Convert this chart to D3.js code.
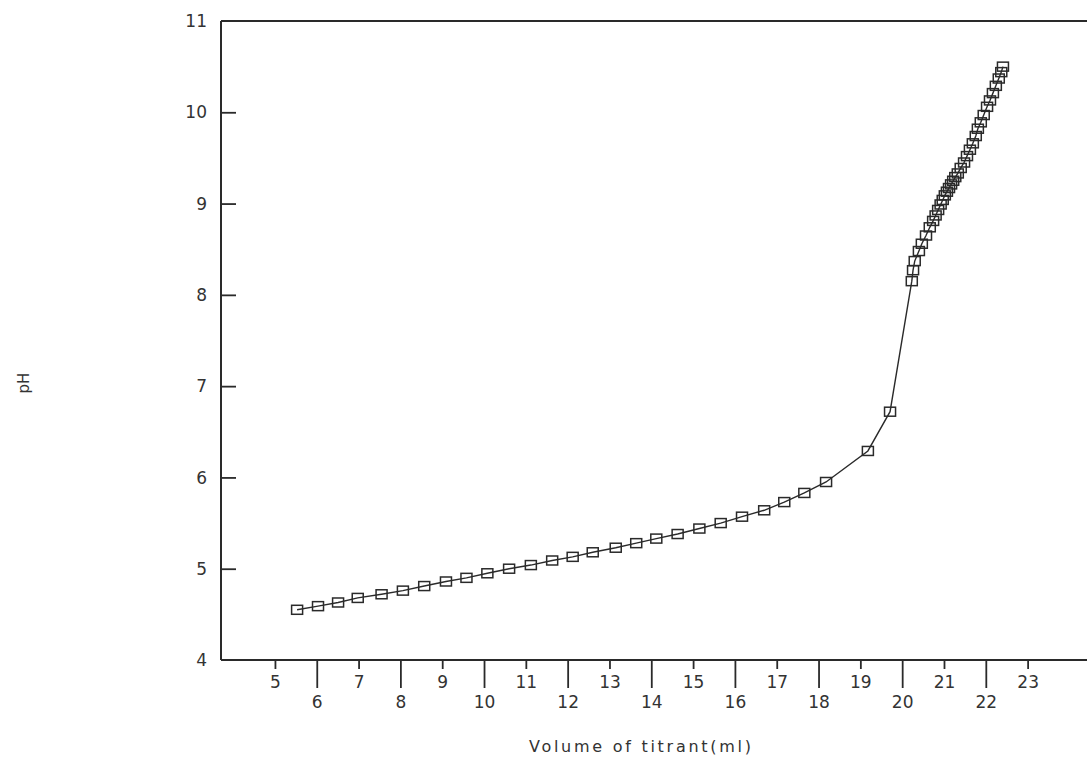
<!DOCTYPE html>
<html>
<head>
<meta charset="utf-8">
<script src="https://cdn.jsdelivr.net/npm/d3@7"></script>
<style>
  html, body { margin: 0; padding: 0; background: #fff; }
  svg { display: block; }
  text { font-family: "DejaVu Sans", sans-serif; fill: #333; }
</style>
</head>
<body>
<svg id="chart" width="1087" height="764"></svg>
<script>
// ---- data ----
const volume = [
  5.53, 6.03, 6.51, 6.98, 7.55, 8.06, 8.57, 9.09, 9.58, 10.08, 10.6, 11.12, 11.63, 12.12,
  12.6, 13.15, 13.64, 14.12, 14.63, 15.15, 15.66, 16.17, 16.7, 17.18, 17.66, 18.18,
  19.18, 19.71, 20.23,
  20.26, 20.3, 20.4, 20.47, 20.57, 20.66, 20.74, 20.8, 20.86, 20.92, 20.97, 21.02, 21.07,
  21.12, 21.17, 21.22, 21.27, 21.33, 21.4, 21.48, 21.55, 21.62, 21.69, 21.76, 21.81,
  21.88, 21.95, 22.03, 22.1, 22.17, 22.24, 22.31, 22.37, 22.41
];
const pH = [
  4.55, 4.59, 4.63, 4.68, 4.72, 4.76, 4.81, 4.86, 4.9, 4.95, 5.0, 5.04, 5.09, 5.13,
  5.18, 5.23, 5.28, 5.33, 5.38, 5.44, 5.5, 5.57, 5.64, 5.73, 5.83, 5.95,
  6.29, 6.72, 8.15,
  8.27, 8.37, 8.48, 8.56, 8.65, 8.74, 8.81, 8.87, 8.93, 8.99, 9.04, 9.09, 9.13,
  9.17, 9.21, 9.25, 9.29, 9.33, 9.39, 9.45, 9.52, 9.59, 9.66, 9.74, 9.82,
  9.89, 9.97, 10.06, 10.13, 10.21, 10.29, 10.37, 10.44, 10.5
];
const xTicks = [5, 6, 7, 8, 9, 10, 11, 12, 13, 14, 15, 16, 17, 18, 19, 20, 21, 22, 23];
const yTicks = [4, 5, 6, 7, 8, 9, 10, 11];
const xTitle = "Volume of titrant(ml)";
const yTitle = "pH";

(function () {
// ---- layout ----
const svg = d3.select("#chart");
const pLeft = 221, pRight = 1087, pTop = 21, pBottom = 660;
const x = d3.scaleLinear().domain([3.71, 24.42]).range([pLeft, pRight]);
const y = d3.scaleLinear().domain([4, 11]).range([pBottom, pTop]);
const ink = "#2a2a2a";

// frame: top line
svg.append("line").attr("x1", pLeft).attr("x2", pRight).attr("y1", pTop).attr("y2", pTop)
  .attr("stroke", ink).attr("stroke-width", 1.8);

// y axis (ticks pointing inward)
const yAxis = d3.axisRight(y).tickValues(yTicks.filter(d => d > 4 && d < 11)).tickSize(15).tickFormat("");
const gy = svg.append("g").attr("transform", `translate(${pLeft},0)`).call(yAxis);
gy.select(".domain").remove();
gy.selectAll(".tick line").attr("stroke", ink).attr("stroke-width", 1.8);
svg.append("line").attr("x1", pLeft).attr("x2", pLeft).attr("y1", pTop).attr("y2", pBottom)
  .attr("stroke", ink).attr("stroke-width", 2);
svg.append("g").selectAll("text").data(yTicks).join("text")
  .attr("x", pLeft - 14).attr("y", d => y(d)).attr("dy", "0.36em")
  .attr("text-anchor", "end").attr("font-size", 17).text(d => d);

// x axis
const gx = svg.append("g").attr("transform", `translate(0,${pBottom})`)
  .call(d3.axisBottom(x).tickValues(xTicks).tickSize(0).tickFormat(""));
gx.select(".domain").remove();
gx.selectAll(".tick").append("line")
  .attr("y1", 0).attr("y2", d => d % 2 === 0 ? 28 : 9)
  .attr("stroke", ink).attr("stroke-width", 1.8);
gx.selectAll(".tick").append("text")
  .attr("y", d => d % 2 === 0 ? 42 : 22).attr("dy", "0.36em")
  .attr("text-anchor", "middle").attr("font-size", 17).attr("fill", "#333").text(d => d);
svg.append("line").attr("x1", pLeft).attr("x2", pRight).attr("y1", pBottom).attr("y2", pBottom)
  .attr("stroke", ink).attr("stroke-width", 2);

// titles
svg.append("text").attr("x", 640).attr("y", 752).attr("text-anchor", "middle")
  .attr("font-size", 16).attr("textLength", 222).attr("lengthAdjust", "spacing").text(xTitle);
svg.append("text").attr("transform", "translate(24,383) rotate(-90)")
  .attr("text-anchor", "middle").attr("dy", "0.36em").attr("font-size", 15).text(yTitle);

// series
const pts = volume.map((v, i) => ({ v, p: pH[i] }));
svg.append("path").datum(pts)
  .attr("d", d3.line().x(d => x(d.v)).y(d => y(d.p)))
  .attr("fill", "none").attr("stroke", ink).attr("stroke-width", 1.4);
const mw = 11, mh = 9;
svg.append("g").selectAll("rect").data(pts).join("rect")
  .attr("x", d => x(d.v) - mw / 2).attr("y", d => y(d.p) - mh / 2)
  .attr("width", mw).attr("height", mh)
  .attr("fill", "none").attr("stroke", ink).attr("stroke-width", 1.5);
})();
</script>
</body>
</html>
